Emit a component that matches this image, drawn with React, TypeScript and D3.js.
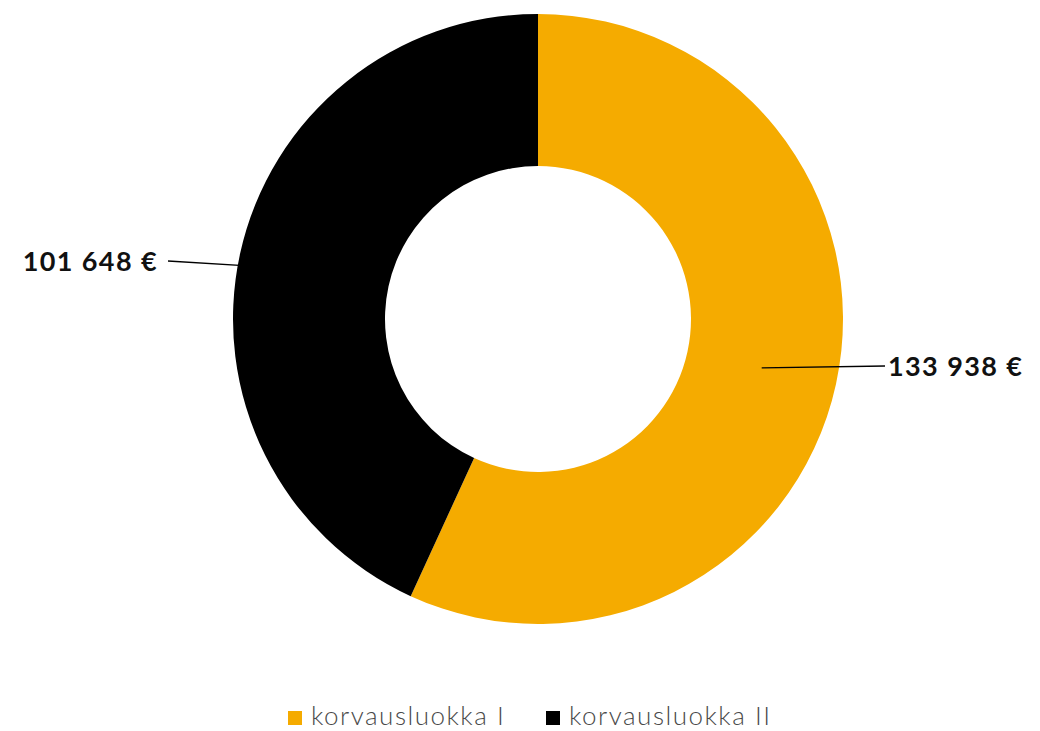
import React from "react";
import * as d3 from "d3";

const categories = ["korvausluokka I", "korvausluokka II"];
const values = [133938, 101648];
const valueLabels = ["133 938 €", "101 648 €"];
const colors = ["#F5AB00", "#000000"];

const W = 1040;
const H = 731;
const cx = 538;
const cy = 319;
const outerR = 305;
const innerR = 153;

export default function App() {
  const pie = d3.pie<number>().sort(null).value((d) => d);
  const arcs = pie(values);
  const arcGen = d3.arc<d3.PieArcDatum<number>>().innerRadius(innerR).outerRadius(outerR);
  const labelEnds = [
    { x: 885, y: 366, anchor: "start", tx: 888 },
    { x: 168, y: 261, anchor: "end", tx: 158 },
  ];
  const legendX = [288, 546];
  return (
    <svg
      width={W}
      height={H}
      style={{ position: "absolute", left: 0, top: 0, background: "#fff" }}
    >
      <g transform={`translate(${cx},${cy})`}>
        {arcs.map((a, i) => (
          <path key={i} d={arcGen(a) || ""} fill={colors[i]} />
        ))}
      </g>
      {arcs.map((a, i) => {
        const [x, y] = arcGen.centroid(a);
        const e = labelEnds[i];
        return (
          <g key={"l" + i}>
            <line x1={cx + x} y1={cy + y} x2={e.x} y2={e.y} stroke="#000" strokeWidth={1.3} />
            <text
              x={e.tx}
              y={e.y + 10}
              textAnchor={e.anchor as any}
              fontFamily="Lato, sans-serif"
              fontWeight={700}
              fontSize={27}
              letterSpacing={1.4}
              fill="#111"
            >
              {valueLabels[i]}
            </text>
          </g>
        );
      })}
      {categories.map((c, i) => (
        <g key={"g" + i}>
          <rect x={legendX[i]} y={711} width={14} height={14} fill={colors[i]} />
          <text
            x={legendX[i] + 23}
            y={725}
            fontFamily="Lato, sans-serif"
            fontWeight={300}
            fontSize={26}
            letterSpacing={1.5}
            fill="#4a4a4a"
          >
            {c}
          </text>
        </g>
      ))}
    </svg>
  );
}
